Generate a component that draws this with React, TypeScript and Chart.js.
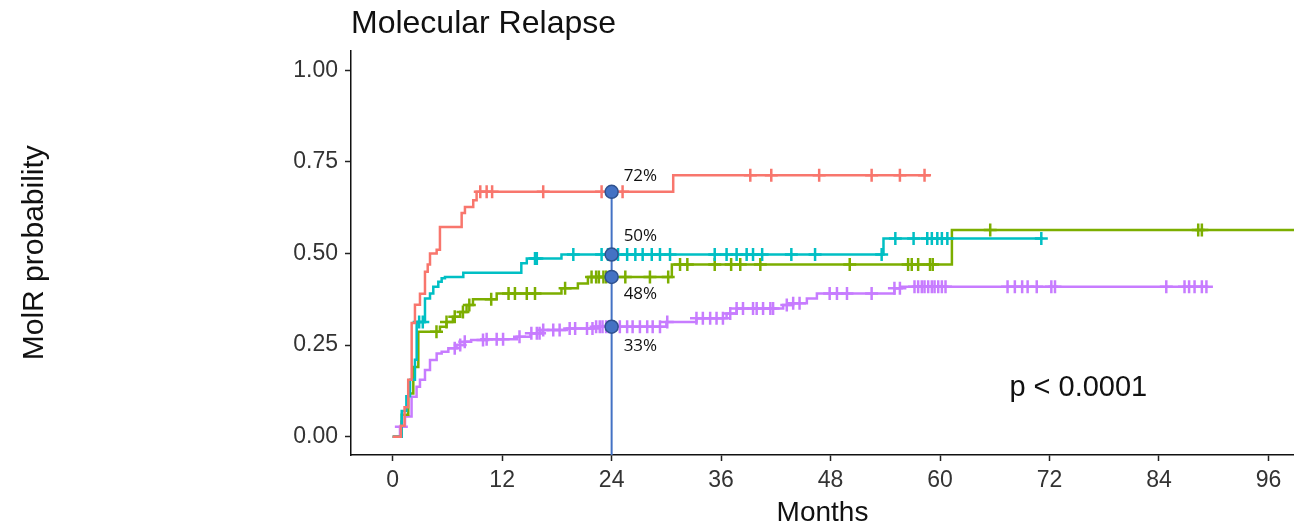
import React, { useEffect, useRef } from 'react';
import { Chart, registerables } from 'chart.js';

Chart.register(...registerables);

// ---------- data ----------
const xTickValues = [0, 12, 24, 36, 48, 60, 72, 84, 96];
const yTickValues = [0, 0.25, 0.5, 0.75, 1];
const seriesNames = ['Group 1', 'Group 2', 'Group 3', 'Group 4'];
const seriesColors = ['#F8766D', '#00BFC4', '#7CAE00', '#C77CFF'];

// Red curve
const redTimes = [0, 0.9, 1.3, 1.7, 2.08, 2.44, 2.99, 3.54, 3.84, 4.09, 4.82, 5.18, 7.56, 7.92, 8.83, 9.2, 30.75, 58.9];
const redValues = [0, 0.03, 0.08, 0.155, 0.31, 0.36, 0.39, 0.45, 0.47, 0.5, 0.51, 0.572, 0.61, 0.627, 0.645, 0.668, 0.713, 0.713];
const redCensor = [9.6, 10.3, 10.9, 16.5, 22.9, 25.2, 39.2, 41.5, 46.75, 52.5, 55.6, 58.3];

// Teal curve
const tealTimes = [0, 0.99, 1.5, 1.9, 2.44, 2.63, 3.54, 4.09, 4.45, 5.0, 5.37, 5.73, 7.74, 14.1, 14.7, 18.5, 53.8, 71.3];
const tealValues = [0, 0.07, 0.11, 0.155, 0.21, 0.313, 0.377, 0.391, 0.409, 0.423, 0.432, 0.436, 0.447, 0.473, 0.486, 0.497, 0.541, 0.541];
const tealCensor = [2.9, 3.3, 15.6, 15.8, 19.8, 22.9, 23.6, 24.7, 25.7, 26.6, 27.4, 28.4, 29.3, 30.4, 35.3, 36.6, 37.7, 38.8, 39.5, 40.5, 43.7, 46.3, 53.6, 55.1, 57.1, 58.6, 59.1, 59.7, 60.2, 60.8, 71.1];

// Green curve
const greenTimes = [0, 0.99, 1.71, 2.26, 2.81, 5.18, 5.9, 6.6, 7.4, 8.1, 8.8, 11.4, 18.5, 20.3, 21.4, 30.6, 61.3, 98.8];
const greenValues = [0, 0.06, 0.118, 0.19, 0.286, 0.3, 0.313, 0.327, 0.34, 0.359, 0.375, 0.391, 0.405, 0.418, 0.436, 0.47, 0.564, 0.564];
const greenCensor = [4.8, 5.9, 6.8, 7.7, 8.4, 10.8, 12.7, 13.4, 14.7, 15.6, 18.9, 21.8, 22.3, 22.6, 23.1, 23.4, 23.9, 25.5, 28.2, 30.2, 31.5, 32.3, 35.3, 37.1, 38.1, 40.3, 50.1, 56.5, 56.9, 57.6, 58.9, 59.2, 65.5, 88.3, 88.7];

// Purple curve
const purpleTimes = [0, 0.8, 1.35, 2.07, 2.62, 2.99, 3.54, 4.09, 4.82, 5.37, 6.1, 7.0, 7.9, 8.6, 10.3, 13.6, 15.1, 16.2, 19.1, 22.0, 30.0, 33.3, 36.6, 37.7, 42.8, 43.9, 45.4, 46.5, 55.0, 55.8, 89.2];
const purpleValues = [0, 0.027, 0.055, 0.109, 0.136, 0.155, 0.182, 0.209, 0.227, 0.232, 0.241, 0.25, 0.259, 0.264, 0.266, 0.273, 0.282, 0.291, 0.295, 0.3, 0.313, 0.323, 0.336, 0.35, 0.359, 0.364, 0.377, 0.391, 0.405, 0.409, 0.409];
const purpleCensor = [0.95, 6.8, 7.4, 7.9, 9.9, 10.3, 11.4, 12.1, 13.9, 15.2, 15.8, 16.1, 16.5, 17.6, 18.3, 19.4, 20.0, 21.3, 21.9, 22.3, 22.7, 23.0, 23.4, 23.7, 24.1, 24.9, 25.7, 26.3, 27.1, 27.9, 28.5, 29.3, 30.1, 33.3, 34.0, 34.8, 35.5, 36.2, 37.0, 37.7, 38.4, 39.5, 39.9, 40.6, 41.4, 41.7, 43.2, 43.9, 44.6, 47.9, 48.7, 49.8, 52.5, 55.0, 55.6, 57.2, 57.6, 58.0, 58.3, 58.7, 59.1, 59.4, 59.8, 60.2, 60.6, 67.4, 68.2, 69.0, 69.6, 70.6, 72.2, 72.6, 84.8, 86.8, 87.3, 87.9, 88.7, 89.2];

// Landmark annotation
const landmarkMonth = 24;
const landmarkLabels = ['72%', '50%', '48%', '33%'];
const pValueText = 'p < 0.0001';
const pValuePos = { x: 67.6, y: 0.133 };

// ---------- helpers ----------
const allTimes = [redTimes, tealTimes, greenTimes, purpleTimes];
const allValues = [redValues, tealValues, greenValues, purpleValues];
const allCensor = [redCensor, tealCensor, greenCensor, purpleCensor];

function stepAt(times: number[], values: number[], t: number): number {
  let v = values[0];
  for (let i = 0; i < times.length; i++) {
    if (times[i] <= t) v = values[i];
  }
  return v;
}

const FONT = "'Liberation Sans', Arial, sans-serif";

export default function App() {
  const canvasRef = useRef<HTMLCanvasElement | null>(null);

  useEffect(() => {
    const canvas = canvasRef.current;
    if (!canvas) return;

    const datasets: any[] = [];
    const landmarkValues = allTimes.map((t, i) => stepAt(t, allValues[i], landmarkMonth));

    datasets.push({
      label: 'landmark-dots',
      data: landmarkValues.map((v) => ({ x: landmarkMonth, y: v })),
      showLine: false,
      pointStyle: 'circle',
      pointRadius: 6.5,
      pointBackgroundColor: '#4472C4',
      pointBorderColor: '#2F528F',
      pointBorderWidth: 1.5,
      order: 0,
    });
    datasets.push({
      label: 'landmark-line',
      data: [
        { x: landmarkMonth, y: -0.05 },
        { x: landmarkMonth, y: Math.max(...landmarkValues) },
      ],
      borderColor: '#4472C4',
      borderWidth: 2,
      pointRadius: 0,
      order: 1,
    });

    seriesNames.forEach((name, i) => {
      const color = seriesColors[i];
      const times = allTimes[i];
      const values = allValues[i];
      datasets.push({
        label: name,
        data: times.map((t, k) => ({ x: t, y: values[k] })),
        borderColor: color,
        borderWidth: 2.5,
        stepped: 'before',
        pointRadius: 0,
        fill: false,
        order: 10 + i,
      });
      datasets.push({
        label: name + ' censored',
        data: allCensor[i].map((t) => ({ x: t, y: stepAt(times, values, t) })),
        showLine: false,
        pointStyle: 'cross',
        pointRadius: 6.5,
        pointBorderColor: color,
        pointBackgroundColor: color,
        pointBorderWidth: 2.5,
        order: 10 + i,
      });
    });

    const annotationPlugin = {
      id: 'annotations',
      afterDatasetsDraw(chart: any) {
        const { ctx, scales } = chart;
        const xs = scales.x;
        const ys = scales.y;
        ctx.save();
        const offsets = [-16, -18, 17, 19];
        ctx.font = "17px 'Open Sans', 'Noto Sans', sans-serif";
        ctx.fillStyle = '#111';
        ctx.textAlign = 'left';
        ctx.textBaseline = 'middle';
        landmarkLabels.forEach((txt, i) => {
          const px = xs.getPixelForValue(landmarkMonth) + 12;
          const py = ys.getPixelForValue(landmarkValues[i]) + offsets[i];
          ctx.fillText(txt, px, py);
        });
        ctx.font = `29px ${FONT}`;
        ctx.fillStyle = '#111';
        ctx.fillText(pValueText, xs.getPixelForValue(pValuePos.x), ys.getPixelForValue(pValuePos.y));
        ctx.restore();
      },
    };

    const chart = new Chart(canvas, {
      type: 'line',
      data: { datasets },
      options: {
        responsive: false,
        animation: false,
        events: [],
        devicePixelRatio: 1,
        layout: { padding: 0, autoPadding: false },
        plugins: {
          legend: { display: false },
          tooltip: { enabled: false },
          title: {
            display: true,
            text: 'Molecular Relapse',
            align: 'start',
            fullSize: false,
            color: '#111',
            font: { family: FONT, size: 32, weight: 'normal' },
            padding: { top: 5, bottom: 7 },
          },
        },
        scales: {
          x: {
            type: 'linear',
            min: -4.57,
            max: 98.8,
            afterFit: (scale: any) => {
              scale.height = 74;
              scale.paddingLeft = 0;
              scale.paddingRight = 0;
            },
            afterBuildTicks: (scale: any) => {
              scale.ticks = xTickValues.map((v) => ({ value: v }));
            },
            ticks: {
              font: { family: FONT, size: 23 },
              color: '#333',
              padding: 6,
              maxRotation: 0,
              autoSkip: false,
              callback: (v: any) => String(v),
            },
            grid: { drawOnChartArea: false, drawTicks: true, tickLength: 6, tickColor: '#222', tickWidth: 1.5 },
            border: { display: true, color: '#111', width: 1.5 },
            title: {
              display: true,
              text: 'Months',
              color: '#111',
              font: { family: FONT, size: 28 },
              padding: { top: 0, bottom: -1 },
            },
          },
          y: {
            type: 'linear',
            min: -0.05,
            max: 1.054,
            afterFit: (scale: any) => {
              scale.width = 351;
              scale.paddingTop = 0;
              scale.paddingBottom = 0;
            },
            afterBuildTicks: (scale: any) => {
              scale.ticks = yTickValues.map((v) => ({ value: v }));
            },
            ticks: {
              font: { family: FONT, size: 23 },
              color: '#333',
              padding: 7,
              autoSkip: false,
              callback: (v: any) => Number(v).toFixed(2),
            },
            grid: { drawOnChartArea: false, drawTicks: true, tickLength: 6, tickColor: '#222', tickWidth: 1.5 },
            border: { display: true, color: '#111', width: 1.5 },
            title: {
              display: true,
              text: 'MolR probability',
              color: '#111',
              font: { family: FONT, size: 30 },
              padding: { top: 17, bottom: 0 },
            },
          },
        },
      },
      plugins: [annotationPlugin],
    } as any);

    return () => {
      chart.destroy();
    };
  }, []);

  return (
    <div style={{ position: 'absolute', left: 0, top: 0, width: 1294, height: 529, background: '#fff' }}>
      <canvas ref={canvasRef} width={1294} height={529} style={{ width: 1294, height: 529 }} />
    </div>
  );
}
